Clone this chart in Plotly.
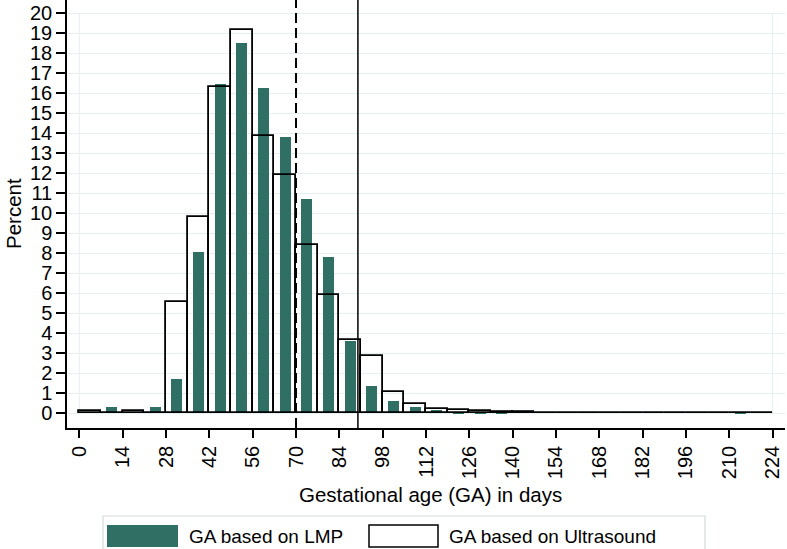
import plotly.graph_objects as go

# ---- data (percent per 7-day bin) ----
bin_starts = list(range(0, 224, 7))
lmp_pct = [0, 0.3, 0, 0.3, 1.7, 8.05, 16.45, 18.5, 16.25, 13.8, 10.7, 7.8,
           3.6, 1.35, 0.62, 0.3, 0.15, 0.08, 0.05, 0.03, 0, 0, 0, 0,
           0, 0, 0, 0, 0, 0, 0.04, 0]
us_pct = [0.1, 0, 0.1, 0, 5.55, 9.8, 16.3, 19.15, 13.85, 11.9, 8.4, 5.9,
          3.65, 2.85, 1.05, 0.47, 0.22, 0.15, 0.1, 0.06, 0.05, 0.03, 0.03, 0.03,
          0.03, 0.03, 0.03, 0.03, 0.03, 0.03, 0, 0.03]
x_ticks = list(range(0, 225, 14))
y_ticks = list(range(0, 21))
ref_lines = {"dash": 70, "solid": 90}
bin_width = 7
labels = ["GA based on LMP", "GA based on Ultrasound"]

GREEN = "#2f6f64"
GRID = "#e6eff1"
FONT = "Liberation Sans, Arial, Helvetica, sans-serif"
FS = 19
FS_TICK = 20
FS_TITLE = 20.5

W, H = 787, 549
ML, MR, MT, MB = 67, 2, 0, 121
PW, PH = W - ML - MR, H - MT - MB


def px(x):
    return (x - ML) / PW


def py(y):
    return (H - MB - y) / PH


centers = [s + bin_width / 2 for s in bin_starts]

fig = go.Figure()
fig.add_trace(go.Bar(x=centers, y=lmp_pct, width=bin_width / 2,
                     marker=dict(color=GREEN, line=dict(width=0)),
                     name=labels[0], showlegend=False))
fig.add_trace(go.Bar(x=centers, y=us_pct, width=bin_width,
                     marker=dict(color="rgba(0,0,0,0)", line=dict(color="black", width=1.8)),
                     name=labels[1], showlegend=False))

shapes = []
# faint plot-region verticals
for xv in (x_ticks[0], x_ticks[-1]):
    shapes.append(dict(type="line", xref="x", yref="y", x0=xv, x1=xv, y0=0, y1=20,
                       line=dict(color=GRID, width=1), layer="below"))
shapes.append(dict(type="line", xref="x", yref="paper", x0=ref_lines["dash"], x1=ref_lines["dash"],
                   y0=0, y1=1, line=dict(color="black", width=2, dash="10px,5px")))
shapes.append(dict(type="line", xref="x", yref="paper", x0=ref_lines["solid"], x1=ref_lines["solid"],
                   y0=0, y1=1, line=dict(color="black", width=1.5)))
# legend box and swatches
shapes.append(dict(type="rect", xref="paper", yref="paper", x0=px(103), x1=px(705),
                   y0=py(555), y1=py(516), line=dict(color="#d3dcdd", width=1.2),
                   fillcolor="white"))
shapes.append(dict(type="rect", xref="paper", yref="paper", x0=px(107), x1=px(178),
                   y0=py(547), y1=py(525), line=dict(width=0), fillcolor=GREEN))
shapes.append(dict(type="rect", xref="paper", yref="paper", x0=px(369), x1=px(438),
                   y0=py(547), y1=py(525), line=dict(color="black", width=1.5),
                   fillcolor="white"))

annotations = [
    dict(text="Gestational age (GA) in days", xref="paper", yref="paper",
         x=px(430), y=py(494), showarrow=False, font=dict(size=FS_TITLE, color="black", family=FONT),
         xanchor="center", yanchor="middle"),
    dict(text="Percent", xref="paper", yref="paper", x=px(13), y=py(214), textangle=-90,
         showarrow=False, font=dict(size=FS_TITLE, color="black", family=FONT),
         xanchor="center", yanchor="middle"),
    dict(text=labels[0], xref="paper", yref="paper", x=px(187), y=py(536), showarrow=False,
         font=dict(size=FS, color="black", family=FONT), xanchor="left", yanchor="middle"),
    dict(text=labels[1], xref="paper", yref="paper", x=px(447), y=py(536), showarrow=False,
         font=dict(size=FS, color="black", family=FONT), xanchor="left", yanchor="middle"),
]

fig.update_layout(
    width=W, height=H, margin=dict(l=ML, r=MR, t=MT, b=MB, pad=0, autoexpand=False),
    paper_bgcolor="white", plot_bgcolor="white",
    barmode="overlay", bargap=0,
    font=dict(family=FONT, size=FS, color="black"),
    shapes=shapes, annotations=annotations,
    xaxis=dict(range=[-4, 228], tickmode="array", tickvals=x_ticks,
               ticktext=[str(v) for v in x_ticks], tickangle=-90,
               ticks="outside", ticklen=8, tickwidth=1.5, tickcolor="black",
               showline=True, linecolor="black", linewidth=1.5, automargin=False,
               tickfont=dict(size=FS_TICK),
               showgrid=False, zeroline=False, fixedrange=True),
    yaxis=dict(range=[-0.73, 20.67], tickmode="array", tickvals=y_ticks,
               ticks="outside", ticklen=9, tickwidth=1.5, tickcolor="black",
               showline=True, linecolor="black", linewidth=1.5, automargin=False,
               tickfont=dict(size=FS_TICK),
               showgrid=True, gridcolor=GRID, gridwidth=1,
               zeroline=False, fixedrange=True),
)

fig.write_html("out.html", config={"displayModeBar": False},
               post_script="document.body.style.margin='0';document.body.style.padding='0';"
                           "document.body.style.overflow='hidden';")
